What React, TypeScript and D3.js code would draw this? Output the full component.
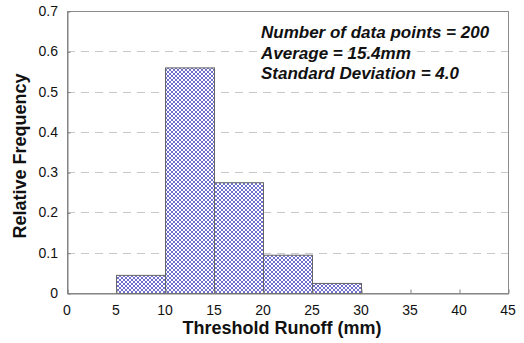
import React, { useEffect, useRef } from "react";
import * as d3 from "d3";

// histogram bins (mm) and relative frequency
const binStarts = [5, 10, 15, 20, 25];
const binWidth = 5;
const frequencies = [0.045, 0.56, 0.275, 0.095, 0.025];
const xTicks = [0, 5, 10, 15, 20, 25, 30, 35, 40, 45];
const yTicks = [0, 0.1, 0.2, 0.3, 0.4, 0.5, 0.6, 0.7];
const statLines = [
  "Number of data points = 200",
  "Average = 15.4mm",
  "Standard Deviation = 4.0",
];

const App = () => {
  const ref = useRef<SVGSVGElement>(null);

  useEffect(() => {
    const width = 524;
    const height = 343;
    const margin = { top: 11, right: 16, bottom: 50, left: 67 };
    const innerW = width - margin.left - margin.right;
    const innerH = height - margin.top - margin.bottom;

    const svg = d3.select(ref.current);
    svg.selectAll("*").remove();

    // checker pattern for the bars
    const pat = svg
      .append("defs")
      .append("pattern")
      .attr("id", "checker")
      .attr("width", 4)
      .attr("height", 4)
      .attr("patternUnits", "userSpaceOnUse");
    pat.append("rect").attr("width", 4).attr("height", 4).attr("fill", "#ffffff");
    pat.append("rect").attr("width", 2).attr("height", 2).attr("fill", "#7070cc");
    pat.append("rect").attr("x", 2).attr("y", 2).attr("width", 2).attr("height", 2).attr("fill", "#7070cc");

    const x = d3.scaleLinear().domain([0, 45]).range([0, innerW]);
    const y = d3.scaleLinear().domain([0, 0.7]).range([innerH, 0]);

    const g = svg.append("g").attr("transform", `translate(${margin.left},${margin.top})`);

    // dashed gridlines
    g.selectAll(".grid")
      .data(yTicks.filter((t) => t > 0 && t < 0.7))
      .enter()
      .append("line")
      .attr("x1", 0)
      .attr("x2", innerW)
      .attr("y1", (d) => Math.round(y(d)) + 0.5)
      .attr("y2", (d) => Math.round(y(d)) + 0.5)
      .attr("stroke", "#c8c8c8")
      .attr("stroke-dasharray", "8,6");

    // plot frame
    g.append("rect")
      .attr("x", 0.5)
      .attr("y", 0.5)
      .attr("width", innerW)
      .attr("height", innerH)
      .attr("fill", "none")
      .attr("stroke", "#8c8c8c");

    // bars
    g.selectAll(".bar")
      .data(frequencies)
      .enter()
      .append("rect")
      .attr("x", (d, i) => x(binStarts[i]) + 0.5)
      .attr("y", (d) => y(d) + 0.5)
      .attr("width", x(binWidth) - x(0))
      .attr("height", (d) => innerH - y(d))
      .attr("fill", "url(#checker)")
      .attr("stroke", "#666")
      .attr("stroke-width", 1);

    // axes with inside ticks
    const xAxis = g
      .append("g")
      .attr("transform", `translate(0.5,${innerH + 0.5})`)
      .call(d3.axisTop(x).tickValues(xTicks).tickSize(4).tickSizeOuter(0).tickFormat(() => ""));
    xAxis.selectAll("line,path").attr("stroke", "#808080");

    const yAxis = g
      .append("g")
      .attr("transform", "translate(0.5,0.5)")
      .call(d3.axisRight(y).tickValues(yTicks).tickSize(3).tickSizeOuter(0).tickFormat(() => ""));
    yAxis.selectAll("line,path").attr("stroke", "#808080");

    // tick labels
    g.selectAll(".xl")
      .data(xTicks)
      .enter()
      .append("text")
      .attr("x", (d) => x(d))
      .attr("y", innerH + 22)
      .attr("text-anchor", "middle")
      .attr("font-family", "Liberation Sans, Arial, sans-serif")
      .attr("font-size", 14)
      .attr("fill", "#111")
      .text((d) => d);

    g.selectAll(".yl")
      .data(yTicks)
      .enter()
      .append("text")
      .attr("x", -9)
      .attr("y", (d) => y(d) + 5)
      .attr("text-anchor", "end")
      .attr("font-family", "Liberation Sans, Arial, sans-serif")
      .attr("font-size", 14)
      .attr("fill", "#111")
      .text((d) => (d === 0 ? "0" : d3.format(".1f")(d)));

    // axis titles
    svg.append("text")
      .attr("x", 282)
      .attr("y", 334)
      .attr("text-anchor", "middle")
      .attr("font-family", "Liberation Sans, Arial, sans-serif")
      .attr("font-weight", "bold")
      .attr("font-size", 18)
      .attr("fill", "#111")
      .text("Threshold Runoff (mm)");

    svg.append("text")
      .attr("transform", `translate(26,${margin.top + innerH / 2 + 4}) rotate(-90)`)
      .attr("text-anchor", "middle")
      .attr("font-family", "Liberation Sans, Arial, sans-serif")
      .attr("font-weight", "bold")
      .attr("font-size", 18)
      .attr("fill", "#111")
      .text("Relative Frequency");

    // stats annotation
    svg.selectAll(".stat")
      .data(statLines)
      .enter()
      .append("text")
      .attr("x", 261)
      .attr("y", (d, i) => 38 + i * 20.5)
      .attr("font-family", "Liberation Sans, Arial, sans-serif")
      .attr("font-weight", "bold")
      .attr("font-style", "italic")
      .attr("font-size", 17)
      .attr("fill", "#111")
      .text((d) => d);
  }, []);

  return (
    <svg
      ref={ref}
      width={524}
      height={343}
      style={{ position: "absolute", left: 0, top: 0, background: "#fff" }}
    />
  );
};

export default App;
